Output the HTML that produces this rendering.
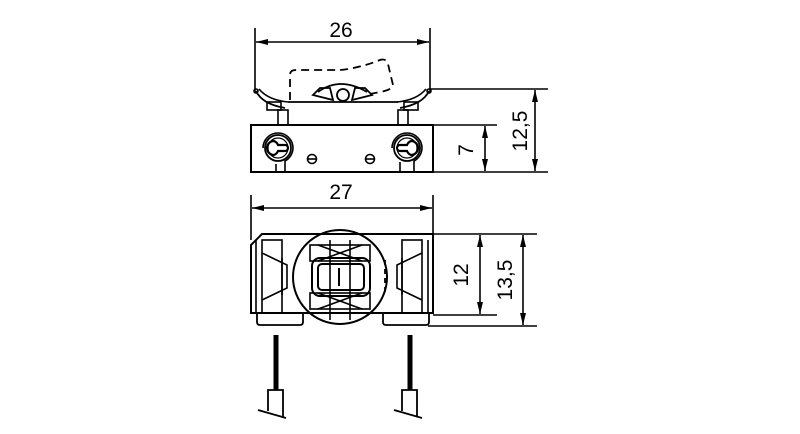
<!DOCTYPE html>
<html><head><meta charset="utf-8"><style>html,body{margin:0;padding:0;background:#fff}svg{display:block}</style></head>
<body>
<svg width="800" height="434" viewBox="0 0 800 434" xmlns="http://www.w3.org/2000/svg" font-family="Liberation Sans, sans-serif">
<defs>
<marker id="a" viewBox="0 0 12 6" refX="12" refY="3" markerWidth="12" markerHeight="6" orient="auto-start-reverse" markerUnits="userSpaceOnUse"><path d="M0,0L12,3L0,6z" fill="#000"/></marker>
</defs>
<g stroke="#000" fill="none" stroke-width="1.6">
<!-- TOP VIEW -->
<line x1="255" y1="28" x2="255" y2="92"/><line x1="430" y1="28" x2="430" y2="92"/>
<line x1="256" y1="42" x2="429" y2="42" marker-start="url(#a)" marker-end="url(#a)"/>
<line x1="430" y1="89" x2="548" y2="89"/><line x1="433" y1="125" x2="497" y2="125"/><line x1="433" y1="172" x2="548" y2="172"/>
<line x1="485" y1="126" x2="485" y2="171" marker-start="url(#a)" marker-end="url(#a)"/>
<line x1="535" y1="90" x2="535" y2="171" marker-start="url(#a)" marker-end="url(#a)"/>
<!-- clips -->
<path d="M256,91 Q262,104 285,108" stroke-width="1.8"/><path d="M259,89 Q268,100 288,102"/>
<path d="M429,91 Q423,104 400,108" stroke-width="1.8"/><path d="M426,89 Q417,100 397,102"/>
<circle cx="256" cy="91" r="2"/><circle cx="429" cy="91" r="2"/>
<rect x="267" y="102" width="14" height="8"/><rect x="278" y="110" width="10" height="15"/>
<rect x="404" y="102" width="14" height="8"/><rect x="398" y="110" width="10" height="15"/>
<line x1="288" y1="102" x2="398" y2="102" stroke-width="1.8"/>
<!-- rocker -->
<path d="M290,100 L290,75 Q290,70 296,70 L340,70 Q360,68 380,60 Q386,58 388,64 L393,85 Q392,90 380,92 L370,94" stroke-dasharray="8,5" stroke-width="1.8"/>
<path d="M313,95 L320,88 L330,88 L333,100 Z M352,100 L355,88 L365,88 L372,95 Z" stroke-width="1.8"/>
<path d="M318,92 Q340,76 367,92" stroke-width="1.8"/>
<circle cx="343" cy="95" r="6" stroke-width="1.8"/>
<!-- base -->
<rect x="251" y="125" width="182" height="47" stroke-width="2"/>
<path d="M263,148 a15,15 0 1 1 30,0 a15,15 0 0 1 -8,13 v11 M286,172 h-10 v-8" />
<circle cx="278" cy="148" r="13" stroke-width="1.8"/>
<circle cx="278" cy="148" r="10" stroke-width="1.2"/>
<path d="M274,141 a7,7 0 1 0 0,14 a7,7 0 0 0 4,-4 h7 a3,3 0 0 0 0,-6 h-7 a7,7 0 0 0 -4,-4 z" stroke-width="2.2"/>
<path d="M392,148 a15,15 0 1 1 30,0 a15,15 0 0 1 -8,13 v11 M400,172 v-10"/>
<circle cx="407" cy="148" r="13" stroke-width="1.8"/>
<circle cx="407" cy="148" r="10" stroke-width="1.2"/>
<path d="M411,141 a7,7 0 1 1 0,14 a7,7 0 0 1 -4,-4 h-7 a3,3 0 0 1 0,-6 h7 a7,7 0 0 1 4,-4 z" stroke-width="2.2"/>
<circle cx="312" cy="159" r="4.5"/><line x1="308" y1="159" x2="316" y2="159"/>
<circle cx="370" cy="159" r="4.5"/><line x1="366" y1="159" x2="374" y2="159"/>

<!-- BOTTOM VIEW -->
<line x1="251" y1="195" x2="251" y2="240"/><line x1="433" y1="195" x2="433" y2="240"/>
<line x1="252" y1="208" x2="432" y2="208" marker-start="url(#a)" marker-end="url(#a)"/>
<line x1="433" y1="234" x2="537" y2="234"/><line x1="433" y1="315" x2="497" y2="315"/><line x1="428" y1="326" x2="537" y2="326"/>
<line x1="480" y1="235" x2="480" y2="314" marker-start="url(#a)" marker-end="url(#a)"/>
<line x1="523" y1="235" x2="523" y2="325" marker-start="url(#a)" marker-end="url(#a)"/>
<path d="M251,245 L262,234 L433,234 L433,313 L251,313 Z" stroke-width="2"/>
<path d="M257,313 v9 q0,3 3,3 h40 q3,0 3,-3 v-9 M383,313 v9 q0,3 3,3 h40 q3,0 3,-3 v-9" stroke-width="1.8"/>
<line x1="256" y1="240" x2="256" y2="313"/><line x1="428" y1="240" x2="428" y2="313"/>
<rect x="262" y="240" width="20" height="73"/><rect x="402" y="240" width="20" height="73"/>
<path d="M262,253 L287,265 L287,288 L262,300 M282,258 L282,295"/>
<path d="M422,253 L397,265 L397,288 L422,300 M402,258 L402,295"/>
<circle cx="340" cy="277" r="47" stroke-width="2"/>
<rect x="310" y="245" width="60" height="16"/><rect x="310" y="293" width="60" height="16"/>
<path d="M318,245 L362,261 M362,245 L318,261 M318,293 L362,309 M362,293 L318,309"/>
<rect x="312" y="258" width="58" height="38" rx="8" stroke-width="2"/>
<rect x="318" y="264" width="46" height="26" rx="4" stroke-width="2"/>
<line x1="339" y1="268" x2="339" y2="286" stroke-width="2"/>
<line x1="330" y1="240" x2="330" y2="320"/><line x1="350" y1="240" x2="350" y2="320"/>
<path d="M385,260 v34" stroke-dasharray="5,4" stroke-width="1.8"/>
<!-- wires -->
<line x1="276" y1="335" x2="276" y2="390" stroke-width="5"/>
<line x1="410" y1="335" x2="410" y2="390" stroke-width="5"/>
<path d="M268,411 L268,390 L283,390 L283,417 M258,410 L286,418" stroke-width="1.8"/>
<path d="M402,411 L402,390 L417,390 L417,417 M394,410 L422,418" stroke-width="1.8"/>
</g>
<g font-size="21" fill="#000" text-anchor="middle">
<text x="341" y="37">26</text>
<text x="341" y="199">27</text>
<text transform="translate(473,150) rotate(-90)">7</text>
<text transform="translate(527,131) rotate(-90)">12,5</text>
<text transform="translate(468,275) rotate(-90)">12</text>
<text transform="translate(512,280) rotate(-90)">13,5</text>
</g>
</svg>
</body></html>
